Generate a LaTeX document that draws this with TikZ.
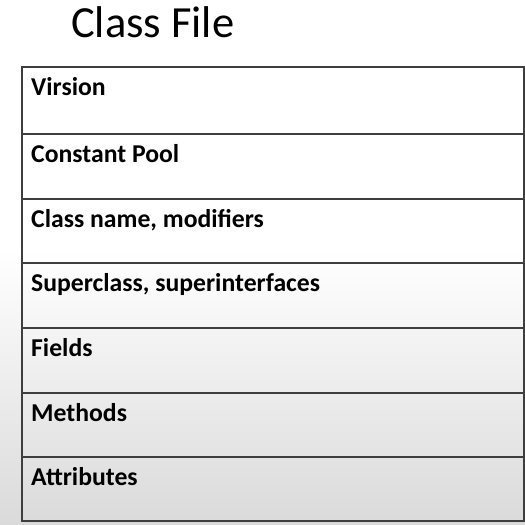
\documentclass[tikz,border=0pt]{standalone}
\usepackage{fontspec}
\setmainfont{Carlito}
\definecolor{rule}{RGB}{62,62,62}
\definecolor{bglow}{RGB}{218,218,218}
\begin{document}
\begin{tikzpicture}[x=1pt,y=-1pt,
  row/.style={draw=rule, line width=1.6pt, anchor=north west,
    minimum width=502pt, inner sep=0pt},
  entry/.style={anchor=base west, inner sep=0pt,
    font=\fontsize{25.7}{30}\selectfont\bfseries, text=black},
  heading/.style={anchor=base west, inner sep=0pt,
    font=\fontsize{44.5}{50}\selectfont, text=black}]
  % page background: white above, soft grey toward the bottom
  \useasboundingbox (0,0) rectangle (525,525);
  \fill[white] (0,0) rectangle (525,525);
  \shade[top color=white, bottom color=bglow] (0,250) rectangle (525,525);

  \node[heading] (title) at (71,37) {Class File};

  % stacked sections of the class file
  \node[row, minimum height=67pt] (r1) at (21,66)  {};
  \node[row, minimum height=65pt] (r2) at (21,133) {};
  \node[row, minimum height=64pt] (r3) at (21,198) {};
  \node[row, minimum height=65pt] (r4) at (21,262) {};
  \node[row, minimum height=65pt] (r5) at (21,327) {};
  \node[row, minimum height=64pt] (r6) at (21,392) {};
  \node[row, minimum height=64pt] (r7) at (21,456) {};

  \node[entry] (t1) at ([shift={(10pt,-29pt)}]r1.north west) {Virsion};
  \node[entry] (t2) at ([shift={(10pt,-29pt)}]r2.north west) {Constant Pool};
  \node[entry] (t3) at ([shift={(10pt,-29pt)}]r3.north west) {Class name, modifiers};
  \node[entry] (t4) at ([shift={(10pt,-29pt)}]r4.north west) {Superclass, superinterfaces};
  \node[entry] (t5) at ([shift={(10pt,-29pt)}]r5.north west) {Fields};
  \node[entry] (t6) at ([shift={(10pt,-29pt)}]r6.north west) {Methods};
  \node[entry] (t7) at ([shift={(10pt,-29pt)}]r7.north west) {Attributes};
\end{tikzpicture}
\end{document}
